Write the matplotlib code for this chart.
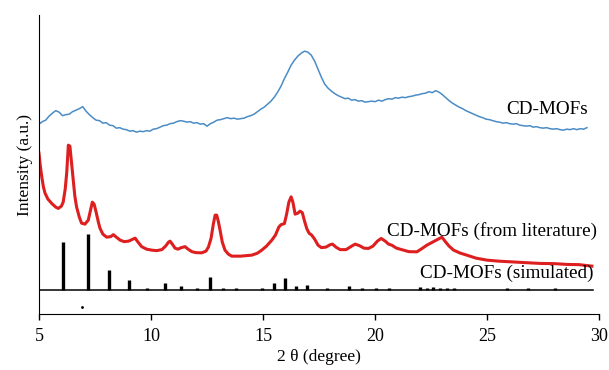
import matplotlib
matplotlib.use("Agg")
import matplotlib.pyplot as plt

plt.rcParams["font.family"] = ["Liberation Serif", "DejaVu Serif"]

# --- data (2-theta in degrees, intensity in arbitrary units) ---
blue_x = [5.00, 5.15, 5.30, 5.45, 5.60, 5.75, 5.90, 6.05, 6.20, 6.35, 6.50, 6.65, 6.80, 6.95,
          7.10, 7.25, 7.40, 7.55, 7.70, 7.85, 8.00, 8.15, 8.30, 8.45, 8.60, 8.75, 8.90, 9.05,
          9.20, 9.35, 9.50, 9.65, 9.80, 9.95, 10.10, 10.25, 10.40, 10.55, 10.70, 10.85, 11.00,
          11.15, 11.30, 11.45, 11.60, 11.75, 11.90, 12.05, 12.20, 12.35, 12.50, 12.65, 12.80,
          12.95, 13.10, 13.25, 13.40, 13.55, 13.70, 13.85, 14.00, 14.15, 14.30, 14.45, 14.60,
          14.75, 14.90, 15.05, 15.20, 15.35, 15.50, 15.65, 15.80, 15.95, 16.10, 16.25, 16.40,
          16.55, 16.70, 16.85, 17.00, 17.15, 17.30, 17.45, 17.60, 17.75, 17.90, 18.05, 18.20,
          18.35, 18.50, 18.65, 18.80, 18.95, 19.10, 19.25, 19.40, 19.55, 19.70, 19.85, 20.00,
          20.15, 20.30, 20.45, 20.60, 20.75, 20.90, 21.05, 21.20, 21.35, 21.50, 21.65, 21.80,
          21.95, 22.10, 22.25, 22.40, 22.55, 22.70, 22.85, 23.00, 23.15, 23.30, 23.45, 23.60,
          23.75, 23.90, 24.05, 24.20, 24.35, 24.50, 24.65, 24.80, 24.95, 25.10, 25.25, 25.40,
          25.55, 25.70, 25.85, 26.00, 26.15, 26.30, 26.45, 26.60, 26.75, 26.90, 27.05, 27.20,
          27.35, 27.50, 27.65, 27.80, 27.95, 28.10, 28.25, 28.40, 28.55, 28.70, 28.85, 29.00,
          29.15, 29.30, 29.45]
blue_y = [190, 192.5, 194, 198, 201, 203.5, 202, 198.5, 199.5, 200, 202.5, 204, 205.5, 207.5,
          203, 199.5, 196.5, 194, 193.5, 191, 191.5, 189, 188.5, 186, 186.5, 185, 184.5, 183,
          183.5, 182, 183, 182.5, 183.5, 183, 185, 185.5, 187, 188.5, 189, 190.5, 191,
          192.5, 193.5, 193, 192, 192.5, 191, 191.5, 190, 190.5, 188, 190.5, 192,
          194, 194.5, 195.5, 196.5, 195.5, 196, 195, 195.5, 196, 197.5, 198.5, 200,
          202.5, 205, 207, 210, 213, 217, 222, 228, 235.5, 242, 249, 254,
          258, 261, 263, 262, 259, 253, 245, 237, 230, 226, 223, 220.5,
          218.5, 217, 215.5, 216, 214, 214.5, 213, 213.5, 212, 212.5, 213, 212.5,
          214, 213, 214.5, 215.5, 215, 216.5, 216, 217, 216.5, 217.5, 218, 219,
          219.5, 220.5, 221, 222.5, 221.5, 223.5, 222, 219.5, 216.5, 213.5, 211, 209,
          207, 205.5, 203.5, 202, 200.5, 199, 197.5, 196.5, 195, 194.5, 193.5, 192.5,
          192, 191, 191.5, 190.5, 190, 190.5, 189, 188.5, 188, 188.5, 187, 187.5,
          186.5, 186, 186.5, 185.5, 185, 185.5, 184.5, 184, 185, 184.5, 185.5, 184.5,
          185.5, 185, 186.5]

red_x = [5.00, 5.05, 5.12, 5.20, 5.27, 5.40, 5.57, 5.75, 5.86, 6.00, 6.08, 6.17, 6.24, 6.31,
         6.38, 6.45, 6.53, 6.60, 6.68, 6.80, 6.90, 7.05, 7.20, 7.30, 7.38, 7.46, 7.55, 7.65,
         7.72, 7.85, 8.02, 8.20, 8.32, 8.45, 8.62, 8.80, 9.00, 9.14, 9.29, 9.42, 9.58, 9.80,
         10.03, 10.25, 10.48, 10.65, 10.78, 10.85, 10.95, 11.07, 11.20, 11.35, 11.52, 11.65,
         11.82, 12.00, 12.26, 12.45, 12.56, 12.68, 12.78, 12.86, 12.93, 13.00, 13.08, 13.18,
         13.30, 13.45, 13.60, 14.00, 14.50, 14.75, 14.94, 15.15, 15.39, 15.55, 15.70, 15.80,
         15.95, 16.05, 16.15, 16.25, 16.33, 16.43, 16.55, 16.65, 16.75, 16.85, 16.95, 17.05,
         17.17, 17.30, 17.45, 17.60, 17.80, 18.00, 18.10, 18.25, 18.44, 18.70, 18.95, 19.11,
         19.30, 19.50, 19.70, 19.90, 20.10, 20.27, 20.45, 20.60, 20.74, 20.95, 21.19, 21.50,
         21.86, 22.05, 22.31, 22.60, 22.85, 22.98, 23.15, 23.30, 23.50, 23.80, 24.09, 24.50,
         24.99, 25.50, 26.03, 26.70, 27.37, 28.00, 28.56, 29.10, 29.67]
red_y = [161, 150, 138, 127, 121, 115, 110.7, 107, 105.7, 108, 112, 125, 142, 169,
         168, 152, 134, 118, 107, 97, 91, 90, 94, 104, 112, 110, 102, 92,
         86, 80, 77, 77.5, 79.5, 77, 74, 72.5, 73, 74.5, 76, 72, 67.5, 65,
         64, 63.5, 64.5, 68, 72, 73, 70, 66, 65, 66.5, 67.5, 65,
         62.5, 61.5, 61.3, 63, 67, 76, 90, 99, 99, 93, 84, 72,
         64, 60, 58, 58, 59, 61, 64, 68, 74, 79, 87, 89.5,
         90.5, 100, 112, 117.3, 112, 100, 101, 103, 101.5, 93, 85.5, 81,
         79, 75, 69, 66.5, 67, 69.5, 70, 67, 64.5, 64.5, 68, 70,
         68.5, 66, 65.7, 68, 73, 75.7, 73, 70, 69, 66, 64.5, 62.5,
         62.3, 65, 69, 72.5, 75.5, 77, 72, 68, 64, 61, 59, 56,
         54, 53, 52.3, 51.5, 50.7, 50.5, 49.7, 49.5, 48]

# simulated pattern: baseline, range and stick peaks
sim_base = 24
sim_range = [5.0, 29.7]
sim_pos = [6.08, 7.17, 8.13, 9.02, 9.80, 10.63, 11.33, 12.04, 12.63, 13.20, 13.80, 14.94,
           15.50, 15.98, 16.47, 16.95, 17.84, 18.84, 19.40, 20.03, 20.60, 22.0, 22.3, 22.6,
           22.9, 23.2, 23.5, 25.88, 26.83, 28.04]
sim_height = [48, 56, 20, 10, 2, 7, 4, 2, 13, 2, 2, 2,
              7, 12, 4, 5, 2, 4, 2, 2, 2, 3, 2, 3,
              2, 2, 2, 2, 2, 2]

labels = ["CD-MOFs", "CD-MOFs (from literature)", "CD-MOFs (simulated)"]
xticks = [5, 10, 15, 20, 25, 30]

fig = plt.figure(figsize=(6.09, 3.70), dpi=100)
ax = fig.add_axes([0.064, 0.151, 0.920, 0.808])

ax.plot(blue_x, blue_y, color="#4a8cc6", lw=1.1)
ax.plot(red_x, red_y, color="#de1f1f", lw=2.2, solid_joinstyle="round")
ax.plot(sim_range, [sim_base, sim_base], color="black", lw=1.1)
ax.vlines(sim_pos, sim_base, [sim_base + h for h in sim_height], color="black", lw=2.4)
ax.plot([6.9], [7], marker=".", ms=2, color="black")  # stray dot in the original scan

ax.text(29.5, 205, labels[0], ha="right", va="center", fontsize=13.8)
ax.text(29.9, 83, labels[1], ha="right", va="center", fontsize=13.8)
ax.text(29.75, 41, labels[2], ha="right", va="center", fontsize=13.8)

ax.set_xlim(5, 30)
ax.set_ylim(0, 299)
ax.set_xticks(xticks)
ax.set_yticks([])
ax.tick_params(axis="x", direction="out", length=4, width=1, labelsize=13, pad=6)
ax.spines["top"].set_visible(False)
ax.spines["right"].set_visible(False)
ax.set_xlabel("2 θ (degree)", fontsize=12.5, labelpad=3)
ax.set_ylabel("Intensity (a.u.)", fontsize=12.5, labelpad=4)

fig.savefig("out.png", dpi=100)
